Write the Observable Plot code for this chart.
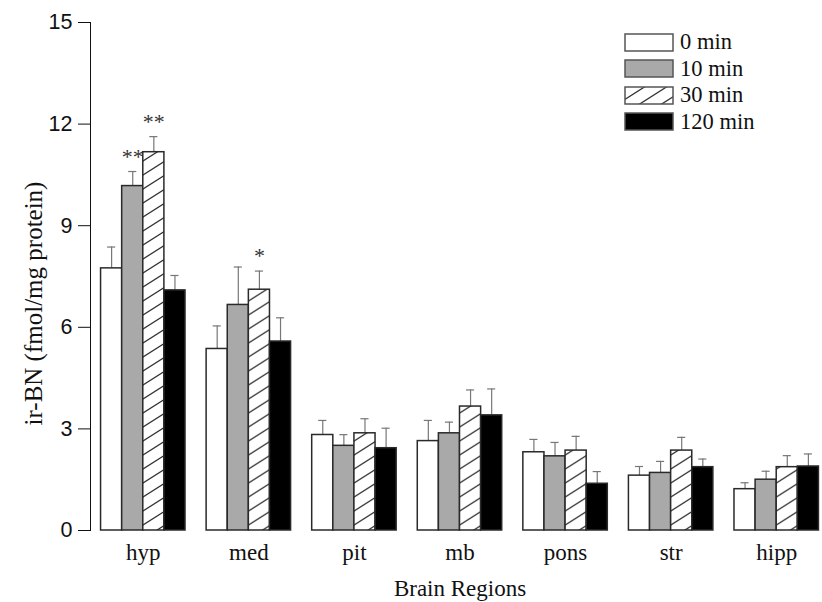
<!DOCTYPE html>
<html>
<head>
<meta charset="utf-8">
<script src="https://cdn.jsdelivr.net/npm/d3@7"></script>
<script src="https://cdn.jsdelivr.net/npm/@observablehq/plot@0.6"></script>
<style>
  body { margin: 0; background: #fff; }
  #wrap { position: relative; width: 822px; height: 602px; overflow: hidden; }
  #legend { position: absolute; left: 624px; top: 29px; font-family: "Liberation Serif", serif; font-size: 22.5px; color: #111; }
  #legend .row { display: flex; align-items: center; height: 26.5px; }
  #legend svg { display: block; margin-right: 6px; }
</style>
</head>
<body>
<div id="wrap"><div id="legend"></div></div>
<script>
const regions = ["hyp", "med", "pit", "mb", "pons", "str", "hipp"];
const times = ["0 min", "10 min", "30 min", "120 min"];
const mean0   = [7.74, 5.36, 2.82, 2.64, 2.31, 1.62, 1.22];
const mean10  = [10.17, 6.66, 2.50, 2.87, 2.19, 1.70, 1.50];
const mean30  = [11.17, 7.11, 2.87, 3.66, 2.36, 2.36, 1.87];
const mean120 = [7.09, 5.58, 2.43, 3.40, 1.38, 1.87, 1.89];
const sem0    = [0.63, 0.68, 0.43, 0.61, 0.38, 0.27, 0.19];
const sem10   = [0.43, 1.12, 0.33, 0.33, 0.41, 0.34, 0.25];
const sem30   = [0.46, 0.55, 0.43, 0.49, 0.42, 0.39, 0.34];
const sem120  = [0.44, 0.70, 0.59, 0.78, 0.36, 0.24, 0.37];
const yTicks = [0, 3, 6, 9, 12, 15];
const starRegions = ["hyp", "hyp", "med"];
const starTimes = ["10 min", "30 min", "30 min"];
const starLabels = ["**", "**", "*"];

const means = [mean0, mean10, mean30, mean120];
const sems = [sem0, sem10, sem30, sem120];
const fills = {"0 min": "#ffffff", "10 min": "#a9a9a9", "30 min": "url(#hatch)", "120 min": "#000000"};

const rows = [];
regions.forEach((r, i) => times.forEach((t, j) => rows.push({region: r, time: t, value: means[j][i], err: sems[j][i]})));
const stars = starRegions.map((r, k) => {
  const row = rows.find(d => d.region === r && d.time === starTimes[k]);
  return {region: r, time: starTimes[k], label: starLabels[k], top: row.value + row.err};
});

const chart = Plot.plot({
  width: 822,
  height: 602,
  marginLeft: 90,
  marginRight: 0,
  marginTop: 22,
  marginBottom: 72,
  style: {fontFamily: "Liberation Serif, serif", fontSize: "23px", color: "#111", background: "transparent", overflow: "visible"},
  fx: {domain: regions, range: [90, 829], padding: 0, round: false, axis: "bottom", tickSize: 0, tickPadding: 13, label: "Brain Regions", labelAnchor: "center", labelOffset: 65, labelArrow: "none", line: true},
  x: {domain: times, paddingInner: 0, paddingOuter: 0.5, round: false, axis: null},
  y: {domain: [0, 15], ticks: yTicks, tickSize: 12, tickPadding: 6, label: "ir-BN (fmol/mg protein)", labelAnchor: "center", labelOffset: 66, labelArrow: "none", line: true},
  marks: [
    Plot.ruleX(rows, {fx: "region", x: "time", y1: "value", y2: d => d.value + d.err, stroke: "#777", strokeWidth: 1.2}),
    Plot.tickY(rows, {fx: "region", x: "time", y: d => d.value + d.err, inset: 6.5, stroke: "#777", strokeWidth: 1.2}),
    Plot.barY(rows, {fx: "region", x: "time", y: "value", fill: d => fills[d.time], stroke: "#2a2a2a", strokeWidth: 1.5}),
    Plot.text(stars, {fx: "region", x: "time", y: "top", text: "label", dy: -8, lineAnchor: "bottom", fontSize: 22, fill: "#333"})
  ]
});

// hatch pattern
const ns = "http://www.w3.org/2000/svg";
function addHatch(svg, id) {
  const defs = document.createElementNS(ns, "defs");
  defs.innerHTML = `<pattern id="${id}" patternUnits="userSpaceOnUse" width="22" height="14">
    <rect width="22" height="14" fill="#fff"/>
    <path d="M-11,7 L11,-7 M0,14 L22,0 M11,21 L33,7" stroke="#333" stroke-width="1.3"/>
  </pattern>`;
  svg.insertBefore(defs, svg.firstChild);
}
addHatch(chart, "hatch");
chart.querySelectorAll("text").forEach(t => {
  const s = t.textContent.trim();
  if (/^\d+$/.test(s)) { t.style.fontFamily = "Liberation Sans, Arial, sans-serif"; t.style.fontSize = "21.5px"; }
  if (s.startsWith("ir-BN")) { t.textContent = s.replace(/[↑↓←→]/g, "").trim(); t.style.fontSize = "25px"; t.setAttribute("dx", "-27"); }
});
document.getElementById("wrap").insertBefore(chart, document.getElementById("legend"));

// legend
const legend = document.getElementById("legend");
times.forEach(t => {
  const row = document.createElement("div");
  row.className = "row";
  const fill = t === "30 min" ? "url(#hatchL)" : fills[t];
  row.innerHTML = `<svg width="50" height="19"><defs><pattern id="hatchL" patternUnits="userSpaceOnUse" width="22" height="14"><rect width="22" height="14" fill="#fff"/><path d="M-11,7 L11,-7 M0,14 L22,0 M11,21 L33,7" stroke="#333" stroke-width="1.3"/></pattern></defs><rect x="1" y="1" width="48" height="17" fill="${fill}" stroke="#555" stroke-width="1.5"/></svg><span>${t}</span>`;
  legend.appendChild(row);
});
</script>
</body>
</html>
